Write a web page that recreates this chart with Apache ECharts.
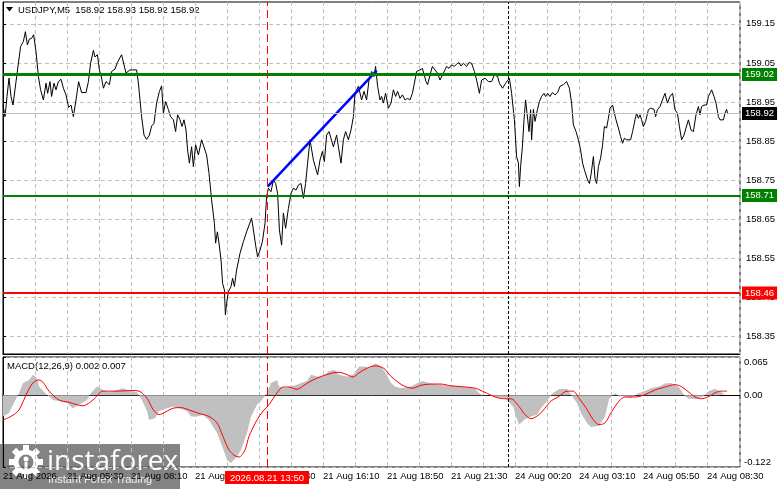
<!DOCTYPE html>
<html><head><meta charset="utf-8">
<script src="https://cdn.jsdelivr.net/npm/echarts@6/dist/echarts.min.js"></script>
<style>html,body{margin:0;padding:0;background:#fff;overflow:hidden}#c{width:781px;height:489px}</style>
</head><body><div id="c"></div>
<script>
// ---------- data ----------
const headerText = 'USDJPY,M5  158.92 158.93 158.92 158.92';
const macdTitle = 'MACD(12,26,9) 0.002 0.007';
const timeLabelBars = [0,32,64,96,128,160,192,224,256,288,320,352];
const timeLabels = ['21 Aug 2026','21 Aug 05:30','21 Aug 08:10','21 Aug 10:50','21 Aug 13:30','21 Aug 16:10','21 Aug 18:50','21 Aug 21:30','24 Aug 00:20','24 Aug 03:10','24 Aug 05:50','24 Aug 08:30'];
const priceTicks = [158.35,158.45,158.55,158.65,158.75,158.85,158.95,159.05,159.15];
const macdTicks = [-0.122,0,0.065];
const priceRange = [158.304,159.206];
const macdRange = [-0.122,0.065];
const barRange = [0,368.5];

const resistance = 159.02;
const support = 158.71;
const stopLevel = 158.46;
const bidPrice = 158.92;
const cursorBar = 132;
const cursorLabel = '2026.08.21 13:50';
const daySeparatorBar = 252.5;
const trendStart = [132.3,158.733];
const trendEnd = [186.8,159.030];

const priceBars = [
0,1,2,3,4,5,6.5,7.7,8.8,10.2,
11.2,12.2,13.2,14.3,15.3,16.5,17.7,18.8,20.2,21.5,
22.3,23.5,24.3,25.5,26.5,27.7,29,30.2,31.5,32.8,
34,35.2,36.5,37.8,39.3,41.5,42.7,43.8,45.2,46,
47.2,48.2,49.3,50.2,51.5,53.2,54.3,56,57.2,59.3,
60.5,61.5,63.5,66.8,67.7,69.3,70.5,71.8,73.2,74.3,
75.5,76.8,78.2,79.3,80.2,81.3,82.7,83.8,85.2,86.3,
87.3,88.5,89.5,90.5,91.5,92.3,93.2,94.3,95.2,96.3,
97.7,99.3,101.8,103,104.3,105.7,106.3,107.2,108,109,
109.8,110.7,111.2,111.8,112.7,114,114.8,115.7,116.8,118.5,
120.2,121.8,124.3,125.2,126.3,127.3,128.5,129.7,131,131.8,
132.7,134,135.2,136.3,137.3,138.2,139.3,140.2,141.3,142.7,
144,145.2,146.5,147.7,149,150.2,151.3,152.3,153.5,155.2,
157.3,158.5,159.7,160.7,161.8,163,164,165.2,166.8,167.7,
169,170.2,171.3,172.7,174,175.2,176,177.7,179.3,180.5,
181.8,183,184.3,185.5,186.3,187.3,188.5,189.3,190.2,191.3,
192.7,194,195.2,196.3,197.3,198.5,199.7,201,202.3,203.5,
204.7,205.7,206.8,208.5,209.7,210.7,211.5,212.3,213.5,214.7,
216,217.2,218.5,219.7,221,221.8,223,224.3,225.7,226.8,
228,229,230.2,231.8,233,234.3,235.7,236.8,238.2,239.3,
241,242.7,244.3,245.7,247.3,248.2,249.8,251.3,253.2,254.3,
255.7,256.8,257.7,258.2,258.8,259.7,260.5,261.3,262.2,263,
263.8,264.3,265.2,266,267.2,268.2,269.3,270.5,271.3,272.3,
273.5,274.7,276,277.3,278.5,280.2,281.8,283.2,284.3,285.2,
286.5,287.7,288.8,289.8,290.7,291.5,292.3,293.2,294,295.2,
296,296.8,297.7,298.8,299.8,300.7,301.8,302.7,303.5,304.8,
305.5,306.5,307.7,308.8,309.8,310.7,311.8,313.8,314.8,316,
316.8,317.7,318.5,319.3,320.2,321.3,322.7,323.8,325.5,326.3,
327.2,328.5,329.7,331,332.2,333.5,334.8,336,337.2,338.2,
339.3,340.5,341.5,342.7,344,345.2,346.5,347.7,348.5,349.3,
350.5,351.8,352.7,353.5,354.3,355.5,356.5,357.7,358.5,360.2,
361,361.8,362.3];
const priceValues = [
158.942,158.912,158.964,159.011,158.964,158.942,159.002,159.049,159.092,159.105,
159.130,159.096,159.111,159.113,159.122,159.079,159.015,158.981,158.955,158.998,
158.972,159.002,158.964,158.998,158.981,159.002,159.008,158.985,158.968,158.936,
158.942,158.912,158.955,159.002,158.974,158.974,159.002,159.049,159.082,159.065,
159.071,159.032,159.011,158.985,159.002,158.994,159.028,159.034,159.051,159.071,
159.045,159.024,159.032,159.032,158.998,158.912,158.865,158.854,158.865,158.888,
158.895,158.947,158.977,158.991,158.921,158.951,158.930,158.912,158.904,158.874,
158.917,158.904,158.887,158.904,158.878,158.827,158.793,158.835,158.784,158.840,
158.814,158.853,158.814,158.767,158.699,158.639,158.588,158.617,158.588,158.545,
158.485,158.468,158.404,158.434,158.464,158.477,158.498,158.477,158.519,158.562,
158.592,158.617,158.652,158.622,158.583,158.553,158.570,158.592,158.639,158.707,
158.729,158.720,158.750,158.741,158.716,158.622,158.583,158.665,158.626,158.677,
158.716,158.729,158.724,158.737,158.741,158.703,158.741,158.793,158.853,158.801,
158.763,158.801,158.823,158.797,158.865,158.874,158.878,158.835,158.865,158.835,
158.793,158.853,158.874,158.853,158.878,158.912,158.972,158.990,158.955,158.977,
158.955,159.006,159.028,159.015,159.041,158.990,158.955,158.964,158.947,158.972,
158.934,158.947,158.981,158.964,158.977,158.959,158.968,158.955,158.959,158.955,
158.972,158.998,159.028,159.032,159.036,159.041,159.002,158.994,159.019,159.041,
159.032,159.024,159.006,159.019,159.032,159.041,159.036,159.045,159.041,159.047,
159.051,159.042,159.049,159.041,159.051,159.049,159.028,159.006,158.972,159.006,
159.011,159.002,159.002,159.019,159.015,158.998,158.985,158.998,159.011,158.972,
158.904,158.810,158.793,158.733,158.784,158.835,158.904,158.955,158.959,158.874,
158.930,158.853,158.931,158.900,158.930,158.951,158.964,158.972,158.964,158.972,
158.964,158.974,158.968,158.974,158.990,158.994,159.002,158.985,158.947,158.891,
158.874,158.853,158.827,158.793,158.776,158.780,158.750,158.741,158.763,158.810,
158.754,158.741,158.784,158.806,158.840,158.887,158.883,158.908,158.934,158.942,
158.925,158.904,158.883,158.861,158.844,158.857,158.853,158.853,158.874,158.904,
158.921,158.908,158.917,158.904,158.887,158.900,158.930,158.934,158.931,158.912,
158.930,158.938,158.955,158.972,158.947,158.964,158.972,158.930,158.921,158.887,
158.853,158.865,158.883,158.904,158.878,158.874,158.917,158.938,158.917,158.938,
158.942,158.942,158.964,158.972,158.981,158.964,158.947,158.912,158.904,158.904,
158.921,158.931,158.920];

const histBars = [
0,3,5,8,10,13,15,17,18,22,
25,28,32,35,38,42,44,47,48,51,
53,57,60,63,67,69,72,73,76,78,
82,85,88,92,94,97,100,103,107,109,
112,114,117,119,122,124,127,129,132,134,
137,138,141,143,147,149,152,154,157,160,
163,166,168,172,175,178,181,183,186,188,
191,194,196,199,204,208,210,213,218,224,
231,236,239,243,246,251,255,257,258,261,
264,267,269,273,275,278,282,284,287,289,
292,294,298,301,303,306,308,311,314,318,
321,324,328,331,334,338,341,343,347,350,
353,356,358,361];
const histValues = [
-0.036,-0.030,-0.016,0.004,0.021,0.026,0.035,0.029,0.015,0.001,
-0.008,-0.010,-0.013,-0.022,-0.016,-0.008,0.004,0.015,0.012,0.007,
0.005,0.009,0.012,0.008,0.005,-0.005,-0.027,-0.042,-0.039,-0.027,
-0.022,-0.019,-0.022,-0.027,-0.036,-0.036,-0.033,-0.042,-0.064,-0.081,
-0.110,-0.115,-0.104,-0.093,-0.064,-0.036,-0.016,-0.010,0.004,0.021,
0.026,0.015,0.012,0.014,0.018,0.021,0.024,0.035,0.032,0.032,
0.041,0.043,0.035,0.032,0.035,0.049,0.049,0.046,0.054,0.052,
0.040,0.021,0.015,0.012,0.015,0.022,0.024,0.021,0.018,0.016,
0.014,0.011,0.001,0.000,-0.003,-0.005,-0.019,-0.041,-0.050,-0.041,
-0.036,-0.033,-0.022,-0.005,0.004,0.010,0.011,0.001,-0.013,-0.030,
-0.047,-0.054,-0.052,-0.036,-0.007,0.004,-0.002,-0.002,-0.005,0.004,
0.007,0.012,0.015,0.020,0.021,0.014,-0.002,-0.006,-0.007,-0.002,
0.007,0.011,0.007,0.002];

const signalBars = [
0,4,8,12,15,18,20,23,28,33,
40,45,50,57,65,68,72,75,78,82,
85,89,93,98,103,107,110,113,116,118,
121,123,127,130,133,137,140,143,147,151,
155,160,165,168,172,175,178,182,186,189,
191,194,198,201,205,209,214,219,224,231,
236,241,246,251,254,258,261,264,268,271,
274,278,282,285,288,292,295,298,301,304,
308,311,316,321,326,331,336,339,343,346,
349,353,356,359,362];
const signalValues = [
-0.042,-0.036,-0.025,0.004,0.021,0.026,0.022,0.007,-0.008,-0.012,
-0.018,-0.008,0.007,0.007,0.008,0.007,-0.005,-0.024,-0.033,-0.027,
-0.022,-0.021,-0.025,-0.031,-0.036,-0.047,-0.070,-0.093,-0.103,-0.105,
-0.093,-0.070,-0.042,-0.027,-0.016,0.004,0.014,0.014,0.010,0.018,
0.026,0.033,0.038,0.039,0.035,0.031,0.038,0.046,0.050,0.048,
0.044,0.032,0.021,0.015,0.012,0.017,0.019,0.019,0.016,0.014,
0.012,0.005,-0.003,-0.006,-0.006,-0.019,-0.033,-0.040,-0.033,-0.022,
-0.010,-0.002,0.007,0.007,-0.005,-0.024,-0.041,-0.050,-0.047,-0.030,
-0.010,-0.003,-0.003,0.001,0.009,0.014,0.018,0.015,0.005,-0.003,
-0.006,-0.002,0.004,0.007,0.007];

// ---------- chart ----------
const FONT = 'Liberation Sans';
const FS = 9.5;
const GRID_C = '#c0c0c0';
const zip = (a, b) => a.map((x, i) => [x, b[i]]);

const levelLabel = {show: true, position: 'end', distance: 2, fontSize: FS, fontFamily: FONT,
  color: '#fff', padding: [2, 3, 1, 3], formatter: p => Number(p.value).toFixed(2)};

const gearTeeth = [];
for (let k = 0; k < 8; k++) {
  gearTeeth.push({type: 'rect', shape: {x: -3, y: -17, width: 6, height: 7}, rotation: k * Math.PI / 4, style: {fill: '#fff'}});
}

const xAxisBase = {
  type: 'value', min: barRange[0], max: barRange[1], interval: 16,
  axisLine: {show: true, lineStyle: {color: '#000'}},
  axisTick: {show: false},
  splitLine: {show: true, lineStyle: {color: GRID_C, type: [4, 3], width: 1}}
};
const yAxisBase = {
  type: 'value', position: 'right',
  axisLine: {show: true, lineStyle: {color: '#000'}},
  axisTick: {show: true, length: 3, lineStyle: {color: '#000'}},
  splitLine: {show: true, lineStyle: {color: GRID_C, type: [4, 3], width: 1}}
};

const option = {
  animation: false,
  backgroundColor: '#fff',
  grid: [
    {left: 3, right: 41, top: 2, bottom: 135, show: true, borderColor: '#000', borderWidth: 1},
    {left: 3, right: 41, top: 357, bottom: 22, show: true, borderColor: '#000', borderWidth: 1}
  ],
  xAxis: [
    Object.assign({}, xAxisBase, {gridIndex: 0, axisLabel: {show: false}}),
    Object.assign({}, xAxisBase, {gridIndex: 1, axisLabel: {
      show: true, align: 'left', margin: 4, fontSize: FS, fontFamily: FONT, color: '#000',
      formatter: v => { const i = timeLabelBars.indexOf(v); return i >= 0 ? timeLabels[i] : ''; }
    }})
  ],
  yAxis: [
    Object.assign({}, yAxisBase, {gridIndex: 0, min: priceRange[0], max: priceRange[1],
      axisTick: {show: true, length: 3, lineStyle: {color: '#000'}, customValues: priceTicks},
      axisLabel: {customValues: priceTicks, margin: 6, fontSize: FS, fontFamily: FONT, color: '#000',
        formatter: v => Number(v).toFixed(2)}}),
    Object.assign({}, yAxisBase, {gridIndex: 1, min: macdRange[0], max: macdRange[1],
      axisTick: {show: true, length: 3, lineStyle: {color: '#000'}, customValues: macdTicks},
      axisLabel: {customValues: macdTicks, margin: 4, fontSize: FS, fontFamily: FONT, color: '#000',
        verticalAlignMinLabel: 'bottom', verticalAlignMaxLabel: 'top',
        formatter: v => v === 0 ? '0.00' : String(v)}})
  ],
  series: [
    {
      type: 'line', xAxisIndex: 0, yAxisIndex: 0, data: zip(priceBars, priceValues),
      showSymbol: false, symbol: 'none', lineStyle: {color: '#000', width: 1}, z: 3,
      markLine: {
        silent: true, symbol: ['none', 'none'], animation: false,
        data: [
          {yAxis: bidPrice, lineStyle: {color: '#c0c0c0', width: 1, type: 'solid'}, label: Object.assign({}, levelLabel, {backgroundColor: '#000'})},
          {yAxis: resistance, lineStyle: {color: '#008000', width: 3, type: 'solid'}, label: Object.assign({}, levelLabel, {backgroundColor: '#008000'})},
          {yAxis: support, lineStyle: {color: '#008000', width: 2, type: 'solid'}, label: Object.assign({}, levelLabel, {backgroundColor: '#008000'})},
          {yAxis: stopLevel, lineStyle: {color: '#ff0000', width: 2, type: 'solid'}, label: Object.assign({}, levelLabel, {backgroundColor: '#ff0000'})},
          {xAxis: cursorBar, lineStyle: {color: '#ff0000', width: 1, type: [8, 4]}, label: {show: false}},
          {xAxis: daySeparatorBar, lineStyle: {color: '#000', width: 1, type: [3, 2]}, label: {show: false}}
        ]
      }
    },
    {
      type: 'line', xAxisIndex: 0, yAxisIndex: 0, data: [trendStart, trendEnd],
      showSymbol: false, symbol: 'none', lineStyle: {color: '#0000ff', width: 2.5}, z: 4
    },
    {
      type: 'line', xAxisIndex: 1, yAxisIndex: 1, data: zip(histBars, histValues),
      showSymbol: false, symbol: 'none', lineStyle: {width: 0, color: '#c0c0c0'},
      areaStyle: {color: '#c0c0c0', opacity: 1}, z: 2,
      markLine: {
        silent: true, symbol: ['none', 'none'], animation: false,
        data: [
          {xAxis: cursorBar, lineStyle: {color: '#ff0000', width: 1, type: [8, 4]},
            label: {show: true, position: 'start', distance: 4, formatter: cursorLabel, color: '#fff',
              backgroundColor: '#ff0000', padding: [2, 5, 1, 5], fontSize: FS, fontFamily: FONT}},
          {xAxis: daySeparatorBar, lineStyle: {color: '#000', width: 1, type: [3, 2]}, label: {show: false}}
        ]
      }
    },
    {
      type: 'line', xAxisIndex: 1, yAxisIndex: 1, data: zip(signalBars, signalValues),
      showSymbol: false, symbol: 'none', smooth: 0.3, lineStyle: {color: '#ff0000', width: 1}, z: 3
    }
  ],
  graphic: [
    {type: 'polygon', shape: {points: [[6, 7], [13, 7], [9.5, 11.5]]}, style: {fill: '#000'}},
    {type: 'text', x: 18, y: 10, style: {text: headerText, fill: '#000', font: FS + 'px ' + FONT, verticalAlign: 'middle'}},
    {type: 'text', x: 7, y: 366, style: {text: macdTitle, fill: '#000', font: FS + 'px ' + FONT, verticalAlign: 'middle'}},
    {type: 'group', z: 100, children: [
      {type: 'rect', shape: {x: 0, y: 444, width: 180, height: 45}, style: {fill: 'rgba(100,100,100,0.8)'}},
      {type: 'group', x: 26, y: 462, children: gearTeeth.concat([
        {type: 'circle', shape: {cx: 0, cy: 0, r: 10}, style: {fill: 'none', stroke: '#fff', lineWidth: 5}},
        {type: 'circle', shape: {cx: 0, cy: -3, r: 2.5}, style: {fill: '#fff'}},
        {type: 'rect', shape: {x: -1.5, y: 0, width: 3, height: 9}, style: {fill: '#fff'}}
      ])},
      {type: 'text', x: 47, y: 462, style: {text: 'instaforex', fill: '#fff', font: '28px "Open Sans"', verticalAlign: 'middle'}},
      {type: 'text', x: 48, y: 480, style: {text: 'Instant Forex Trading', fill: '#f0f0f0', font: '11px ' + FONT, verticalAlign: 'middle'}}
    ]}
  ]
};
const chart = echarts.init(document.getElementById('c'));
chart.setOption(option);
</script></body></html>
